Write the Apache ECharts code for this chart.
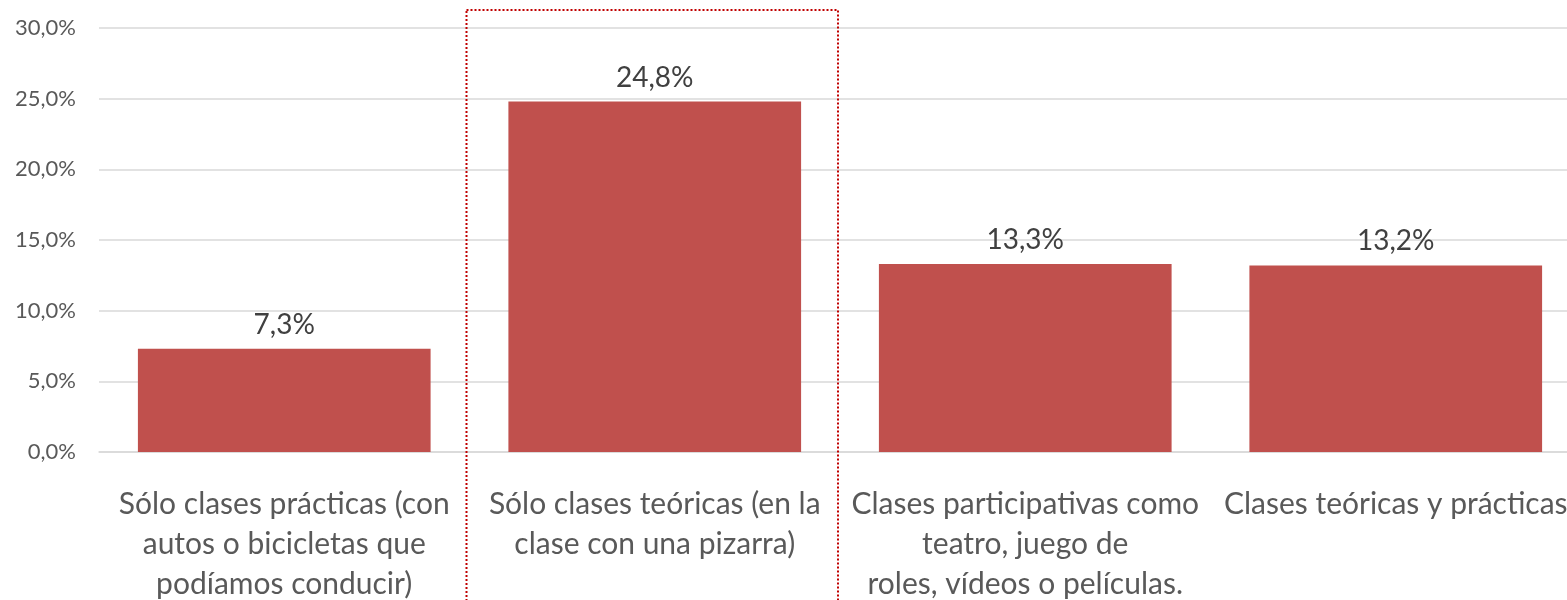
<!DOCTYPE html>
<html>
<head>
<meta charset="utf-8">
<script src="https://cdn.jsdelivr.net/npm/echarts@6/dist/echarts.min.js"></script>
<style>
    html, body { margin: 0; padding: 0; background: #fff; }
    #chart { width: 1567px; height: 600px; }
</style>
</head>
<body>
<div id="chart"></div>
<script>
    // categorías y valores (%)
    var categories = [
        'Sólo clases prácticas (con\nautos o bicicletas que\npodíamos conducir)',
        'Sólo clases teóricas (en la\nclase con una pizarra)',
        'Clases participativas como\nteatro, juego de\nroles, vídeos o películas.',
        'Clases teóricas y prácticas'
    ];
    var values = [7.3, 24.8, 13.3, 13.2];
    var yTicks = [0, 5, 10, 15, 20, 25, 30];
    var highlightIndex = 1;

    var fontFamily = 'Lato, "Open Sans", sans-serif';
    var fmt = function (v) { return v.toFixed(1).replace('.', ',') + '%'; };

    var chart = echarts.init(document.getElementById('chart'));
    // el área de trazado sigue más allá del borde derecho (la última etiqueta queda cortada)
    var grid = { left: 99, right: -14, top: 28, bottom: 148, containLabel: false, outerBoundsMode: 'none' };

    chart.setOption({
        animation: false,
        grid: grid,
        xAxis: {
            type: 'category',
            data: categories,
            axisLine: { show: true, lineStyle: { color: '#D9D9D9', width: 1.5 } },
            axisTick: { show: false },
            axisLabel: {
                interval: 0,
                color: '#595959',
                fontSize: 30,
                lineHeight: 40,
                margin: 32,
                fontFamily: fontFamily,
                align: 'center'
            }
        },
        yAxis: {
            type: 'value',
            min: yTicks[0],
            max: yTicks[yTicks.length - 1],
            interval: 5,
            axisLine: { show: false },
            axisTick: { show: false },
            splitLine: { lineStyle: { color: '#D9D9D9', width: 1.5 } },
            axisLabel: {
                color: '#595959',
                fontSize: 22,
                margin: 23,
                fontFamily: fontFamily,
                formatter: fmt
            }
        },
        series: [{
            type: 'bar',
            data: values,
            barCategoryGap: '21%',
            itemStyle: { color: '#C0504D' },
            label: {
                show: true,
                position: 'top',
                distance: 10,
                color: '#404040',
                fontSize: 28,
                fontFamily: fontFamily,
                formatter: function (p) { return fmt(p.value); }
            }
        }]
    });

    // recuadro punteado alrededor de la categoría destacada
    var catW = (1567 - grid.left - grid.right) / categories.length;
    var x0 = grid.left + catW * highlightIndex - 3;
    chart.setOption({
        graphic: [{
            type: 'rect',
            shape: { x: x0, y: 10, width: catW + 1, height: 600 },
            style: { fill: 'none', stroke: '#C00000', lineWidth: 2, lineDash: [2, 2] },
            z: 10
        }]
    });
</script>
</body>
</html>
